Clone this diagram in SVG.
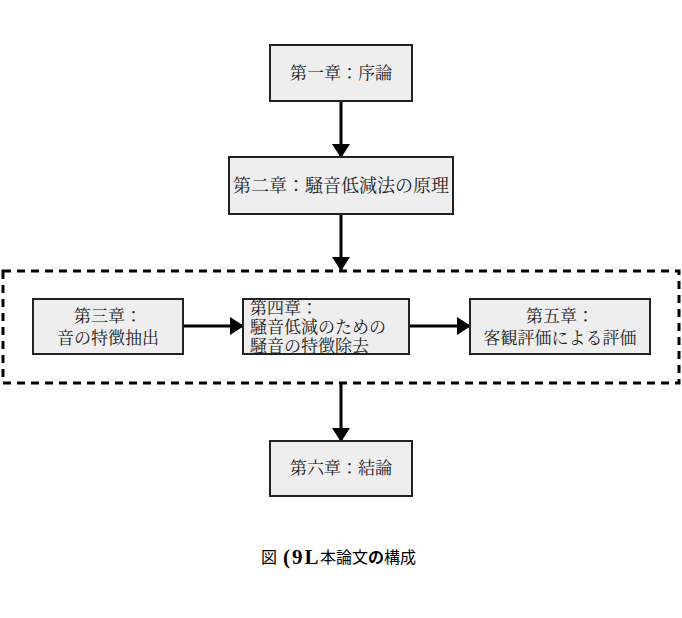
<svg xmlns="http://www.w3.org/2000/svg" width="682" height="618" viewBox="0 0 682 618">
<style>
.box{fill:#eeeeee;stroke:#222;stroke-width:2}
.t{font-family:"Noto Serif CJK JP","Noto Sans CJK JP",serif;font-size:17px;fill:#222}
.c{text-anchor:middle}
.ln{stroke:#000;stroke-width:3;fill:none}
.cap{font-family:"Noto Sans CJK JP",sans-serif;font-size:16px;fill:#000}
</style>
<defs>
<marker id="ahb" markerWidth="14" markerHeight="18" refX="13" refY="9" orient="auto" markerUnits="userSpaceOnUse" viewBox="0 0 14 18">
<path d="M0,0 L14,9 L0,18 Z" fill="#000"/>
</marker>
</defs>
<rect x="3" y="271" width="676" height="112" fill="none" stroke="#000" stroke-width="3" stroke-dasharray="8,6"/>
<g id="connectors">
<line class="ln" x1="341" y1="101" x2="341" y2="157" marker-end="url(#ahb)"/>
<line class="ln" x1="341" y1="214" x2="341" y2="270" marker-end="url(#ahb)"/>
<line class="ln" x1="183" y1="326" x2="243" y2="326" marker-end="url(#ahb)"/>
<line class="ln" x1="409" y1="326" x2="470" y2="326" marker-end="url(#ahb)"/>
<line class="ln" x1="341" y1="384" x2="341" y2="441" marker-end="url(#ahb)"/>
</g>
<g id="n1"><rect class="box" x="270" y="45" width="142" height="56"/><text class="t c" x="341" y="79">第一章：序論</text></g>
<g id="n2"><rect class="box" x="229" y="157" width="224" height="57"/><text class="t c" x="341" y="192" style="font-size:18px">第二章：騒音低減法の原理</text></g>
<g id="n3"><rect class="box" x="33" y="299" width="150" height="55"/><text class="t c" x="108" y="322">第三章：</text><text class="t c" x="108" y="344">音の特徴抽出</text></g>
<g id="n4"><rect class="box" x="243" y="299" width="166" height="55"/><text class="t" x="250" y="314">第四章：</text><text class="t" x="250" y="333">騒音低減のための</text><text class="t" x="250" y="352">騒音の特徴除去</text></g>
<g id="n5"><rect class="box" x="470" y="299" width="180" height="55"/><text class="t c" x="560" y="322">第五章：</text><text class="t c" x="560" y="344">客観評価による評価</text></g>
<g id="n6"><rect class="box" x="270" y="441" width="142" height="55"/><text class="t c" x="341" y="474">第六章：結論</text></g>
<g id="caption">
<text class="cap" x="261" y="563">図</text>
<text x="283" y="564" font-family="Liberation Serif,serif" font-weight="bold" font-size="21" letter-spacing="2" fill="#000">(9L</text>
<text class="cap" x="320" y="563">本論文<tspan font-weight="bold">の</tspan>構成</text>
</g>
</svg>
